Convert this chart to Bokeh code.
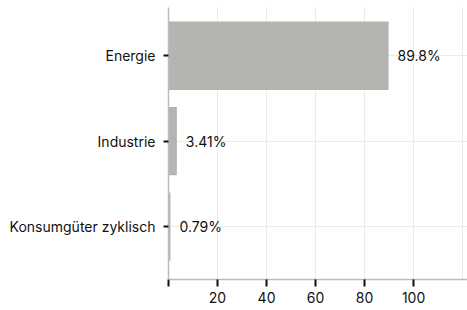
from bokeh.plotting import figure
from bokeh.models import Range1d, FixedTicker, ColumnDataSource
from bokeh.core.properties import value
from bokeh.embed import file_html
from bokeh.resources import INLINE

categories = ["Energie", "Industrie", "Konsumgüter zyklisch"]
shares = [89.8, 3.41, 0.79]
share_labels = ["89.8%", "3.41%", "0.79%"]
x_ticks = [0, 20, 40, 60, 80, 100]
grid_ticks = [20, 40, 60, 80, 100, 120]

n = len(categories)
pos = [n - 1 - i for i in range(n)]

src = ColumnDataSource(dict(y=pos, v=shares, lab=share_labels))

FONT = "Inter"

p = figure(output_backend="svg", toolbar_location=None,
           frame_width=299, frame_height=272,
           x_range=Range1d(0, 122), y_range=Range1d(-0.62, 2.565),
           min_border_left=168, min_border_right=0, min_border_top=7, min_border_bottom=0)
p.outline_line_color = None
p.background_fill_color = "white"

p.hbar(y="y", right="v", left=0, height=0.8, source=src,
       fill_color="#b5b4b0", line_color=None)
p.text(x="v", y="y", text="lab", source=src, x_offset=9,
       text_baseline="middle", text_align="left",
       text_font=value(FONT), text_font_size="14px", text_color="#111111")

xa = p.xaxis[0]
xa.ticker = FixedTicker(ticks=x_ticks)
xa.major_label_overrides = {0: ""}
xa.axis_line_color = "#bcbcbc"
xa.axis_line_width = 1.5
xa.major_tick_line_color = "#111111"
xa.major_tick_line_width = 2
xa.major_tick_out = 7
xa.major_tick_in = 0
xa.minor_tick_line_color = None
xa.major_label_standoff = 5
xa.major_label_text_font = FONT
xa.major_label_text_font_size = "14px"
xa.major_label_text_color = "#111111"

ya = p.yaxis[0]
ya.ticker = FixedTicker(ticks=pos)
ya.major_label_overrides = {pos[i]: categories[i] for i in range(n)}
ya.axis_line_color = "#bcbcbc"
ya.axis_line_width = 1.5
ya.major_tick_line_color = "#111111"
ya.major_tick_line_width = 2
ya.major_tick_out = 5
ya.major_tick_in = 0
ya.minor_tick_line_color = None
ya.major_label_standoff = 8
ya.major_label_text_font = FONT
ya.major_label_text_font_size = "14px"
ya.major_label_text_color = "#111111"

p.xgrid.ticker = FixedTicker(ticks=grid_ticks)
p.xgrid.grid_line_color = "#ebebeb"
p.ygrid.ticker = FixedTicker(ticks=pos)
p.ygrid.grid_line_color = "#ebebeb"

open("out.html", "w").write(file_html(p, INLINE))
